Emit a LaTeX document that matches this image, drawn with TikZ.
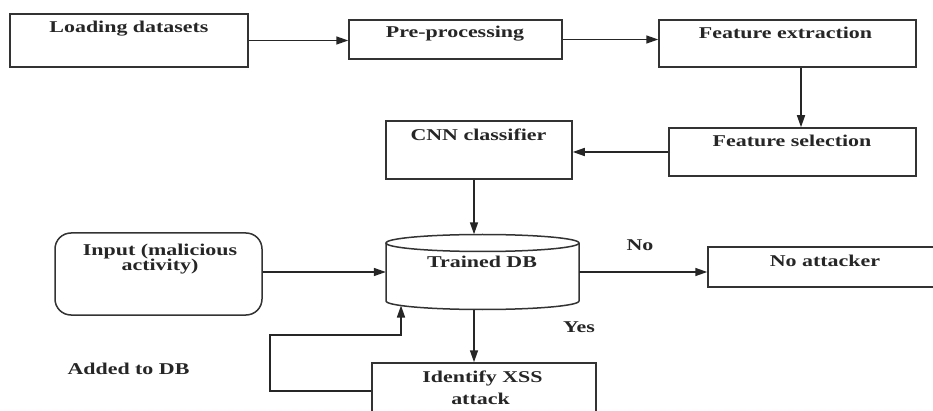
\documentclass[tikz,border=0pt]{standalone}
\usepackage{fontspec}
\setmainfont{Liberation Serif}[FakeStretch=1.33]
\usetikzlibrary{arrows.meta}
\begin{document}
\begin{tikzpicture}[x=1pt,y=-1pt,
  box/.style={draw=black!80,line width=1.5pt,inner sep=0pt,fill=white},
  dbline/.style={draw=black!80,line width=1.5pt},
  flow/.style={draw=black!85,line width=1.5pt,-{Triangle[length=12pt,width=8pt]}},
  txt/.style={inner sep=0pt,anchor=base,text=black!85,
    font=\bfseries\fontsize{16.5}{19}\selectfont}]
\useasboundingbox (0,0) rectangle (933,411);
\fill[white] (0,0) rectangle (933,411);
\clip (0,0) rectangle (933,411);

% process boxes
\node[box,minimum width=238,minimum height=53] (load) at (129,40.5) {};
\node[box,minimum width=213,minimum height=39] (pre) at (455.5,39.5) {};
\node[box,minimum width=257,minimum height=47] (fx) at (787.5,43.5) {};
\node[box,minimum width=247,minimum height=48] (fs) at (792.5,152) {};
\node[box,minimum width=186,minimum height=58] (cnn) at (479,150) {};
\node[box,rounded corners=16pt,minimum width=207,minimum height=82] (inp) at (158.5,274) {};
\node[box,minimum width=240,minimum height=40] (noatk) at (828,267) {};
\node[box,minimum width=224,minimum height=70] (xss) at (484,398) {};

% database cylinder
\node[inner sep=0pt,minimum width=193,minimum height=75] (db) at (482.5,272) {};
\draw[dbline] (386,243) -- (386,301)
  arc[start angle=180,end angle=360,x radius=96.5pt,y radius=8.5pt] -- (579,243);
\draw[dbline] (482.5,243) ellipse[x radius=96.5pt,y radius=8.5pt];

% guide coordinates for the connectors
\coordinate (spine) at (474,0);
\coordinate (fxdown) at (801,0);
\coordinate (loopx) at (270,0);
\coordinate (dbrow) at (0,272);
\coordinate (looprow) at (0,335);
\coordinate (xssrow) at (0,391);
\coordinate (dbfoot) at (401,305.5);

% connectors
\draw[flow] (load.east) -- (load.east -| pre.west);
\draw[flow] (pre.east) -- (pre.east -| fx.west);
\draw[flow] (fx.south -| fxdown) -- (fs.north -| fxdown);
\draw[flow] (fs.west) -- (fs.west -| cnn.east);
\draw[flow] (cnn.south -| spine) -- (db.north -| spine);
\draw[flow] (inp.east |- dbrow) -- (db.west |- dbrow);
\draw[flow] (db.east |- dbrow) -- (noatk.west |- dbrow);
\draw[flow] (db.south -| spine) -- (xss.north -| spine);
\draw[flow] (xss.west |- xssrow) -| (loopx |- looprow) -| (dbfoot);

% labels
\node[txt] (tload) at (129,32.5) {Loading datasets};
\node[txt] (tpre) at (455,38) {Pre-processing};
\node[txt] (tfx) at (785.5,38.5) {Feature extraction};
\node[txt] (tfs) at (792,147) {Feature selection};
\node[txt] (tcnn) at (478.5,140.5) {CNN classifier};
\node[txt] (tdb) at (482,267.5) {Trained DB};
\node[txt] (tin1) at (160,256) {Input (malicious};
\node[txt] (tin2) at (160,271) {activity)};
\node[txt] (tno) at (640,251) {No};
\node[txt] (tnoatk) at (825,266) {No attacker};
\node[txt] (tyes) at (579,332) {Yes};
\node[txt] (txss1) at (482.5,382) {Identify XSS};
\node[txt] (txss2) at (480.5,404) {attack};
\node[txt] (tadd) at (128.5,374) {Added to DB};
\end{tikzpicture}
\end{document}
